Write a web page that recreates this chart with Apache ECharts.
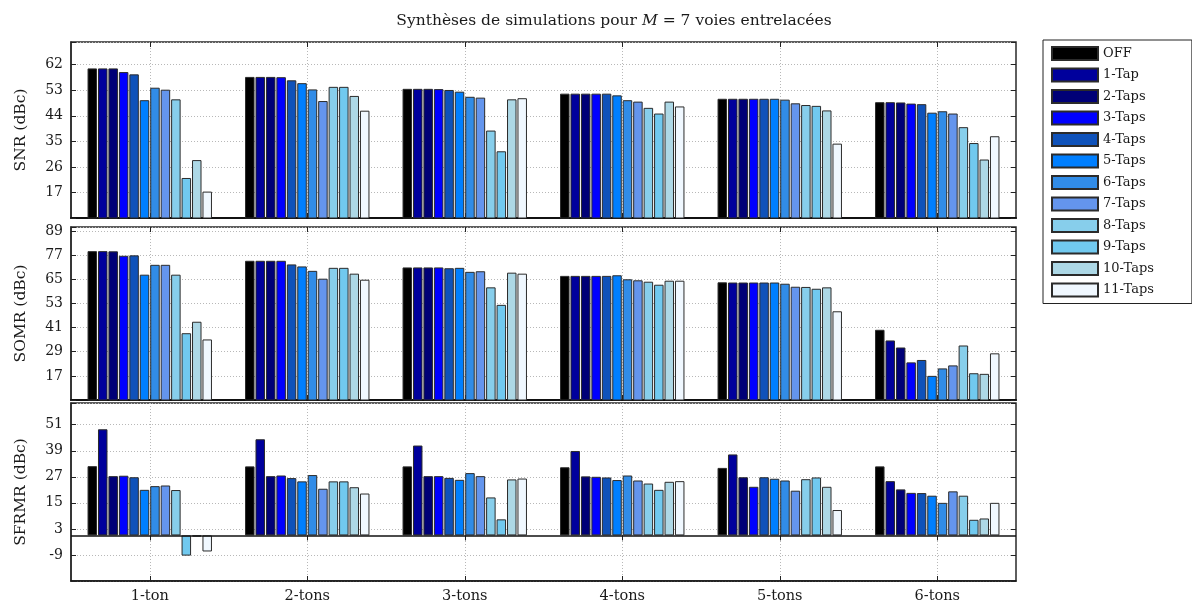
<!DOCTYPE html>
<html><head><meta charset="utf-8">
<script src="https://cdn.jsdelivr.net/npm/echarts@6/dist/echarts.min.js"></script>
<style>html,body{margin:0;padding:0;background:#fff}#c{width:1192px;height:607px}</style>
</head><body><div id="c"></div>
<script>
const categories = ['1-ton', '2-tons', '3-tons', '4-tons', '5-tons', '6-tons'];
const seriesNames = ['OFF', '1-Tap', '2-Taps', '3-Taps', '4-Taps', '5-Taps', '6-Taps', '7-Taps', '8-Taps', '9-Taps', '10-Taps', '11-Taps'];
const seriesColors = ['#000000', '#00009C', '#000077', '#0000FF', '#0F52BA', '#007FFF', '#318CE7', '#6495ED', '#87CEEB', '#71C9EF', '#ADD8E6', '#F0F8FF'];

// SNR (dBc), one array per category, values in series order
const snr1ton  = [60.7, 60.7, 60.7, 59.4, 58.6, 49.5, 53.9, 53.2, 49.8, 22.1, 28.4, 17.3];
const snr2tons = [57.7, 57.7, 57.7, 57.6, 56.5, 55.5, 53.3, 49.2, 54.2, 54.2, 51.0, 45.8];
const snr3tons = [53.5, 53.5, 53.5, 53.4, 53.1, 52.5, 50.7, 50.4, 38.8, 31.5, 49.8, 50.2];
const snr4tons = [51.8, 51.8, 51.8, 51.8, 51.8, 51.2, 49.5, 49.0, 46.8, 44.8, 49.0, 47.3];
const snr5tons = [50.0, 50.0, 50.0, 50.0, 50.0, 50.0, 49.7, 48.4, 47.8, 47.5, 45.9, 34.2];
const snr6tons = [48.8, 48.8, 48.7, 48.3, 48.1, 45.1, 45.6, 44.8, 40.0, 34.4, 28.6, 36.8];

// SOMR (dBc)
const somr1ton  = [79.0, 79.0, 78.9, 76.7, 76.9, 67.3, 72.2, 72.2, 67.3, 38.2, 43.9, 35.1];
const somr2tons = [74.2, 74.2, 74.2, 74.2, 72.4, 71.4, 69.2, 65.3, 70.7, 70.7, 67.8, 64.8];
const somr3tons = [70.9, 70.9, 70.9, 70.9, 70.5, 70.7, 68.7, 69.0, 61.0, 52.3, 68.3, 67.8];
const somr4tons = [66.7, 66.7, 66.7, 66.7, 66.7, 67.0, 65.0, 64.5, 63.8, 62.3, 64.3, 64.3];
const somr5tons = [63.5, 63.4, 63.4, 63.4, 63.4, 63.4, 62.8, 61.3, 61.2, 60.3, 61.0, 49.1];
const somr6tons = [39.9, 34.6, 31.1, 23.7, 24.9, 17.0, 20.7, 22.2, 32.1, 18.3, 18.0, 28.2];

// SFRMR (dBc)
const sfrmr1ton  = [31.9, 48.9, 27.3, 27.5, 26.8, 21.0, 22.7, 23.0, 20.9, -9.3, -0.5, -7.4];
const sfrmr2tons = [31.8, 44.3, 27.3, 27.6, 26.4, 24.9, 27.8, 21.5, 24.9, 24.9, 22.2, 19.3];
const sfrmr3tons = [31.8, 41.4, 27.3, 27.3, 26.5, 25.6, 28.7, 27.3, 17.5, 7.4, 25.8, 26.2];
const sfrmr4tons = [31.4, 38.9, 27.2, 27.0, 26.7, 25.5, 27.6, 25.3, 23.9, 21.0, 24.7, 25.0];
const sfrmr5tons = [31.1, 37.3, 26.8, 22.4, 26.8, 26.1, 25.3, 20.6, 25.9, 26.7, 22.4, 11.7];
const sfrmr6tons = [31.8, 25.0, 21.2, 19.6, 19.5, 18.3, 15.0, 20.3, 18.3, 7.2, 7.8, 15.0];

// tick labels
const snrTicks = [17, 26, 35, 44, 53, 62];
const somrTicks = [17, 29, 41, 53, 65, 77, 89];
const sfrmrTicks = [-9, 3, 15, 27, 39, 51];

const FONT = 'DejaVu Serif';
const TXT = '#1a1a1a';

const panels = [
  { name: 'SNR (dBc)', groups: [snr1ton, snr2tons, snr3tons, snr4tons, snr5tons, snr6tons], min: 8, max: 70, interval: 9, ticks: snrTicks, top: 42, height: 176, labels: false, zero: false },
  { name: 'SOMR (dBc)', groups: [somr1ton, somr2tons, somr3tons, somr4tons, somr5tons, somr6tons], min: 5, max: 91, interval: 12, ticks: somrTicks, top: 227, height: 173, labels: false, zero: false },
  { name: 'SFRMR (dBc)', groups: [sfrmr1ton, sfrmr2tons, sfrmr3tons, sfrmr4tons, sfrmr5tons, sfrmr6tons], min: -21, max: 61, interval: 12, ticks: sfrmrTicks, top: 403, height: 178, labels: true, zero: true }
];

const grid = [], xAxis = [], yAxis = [], series = [];
const dotted = { show: true, lineStyle: { color: '#b8b8b8', width: 1, type: [1, 2] } };

panels.forEach((p, pi) => {
  grid.push({ left: 71, width: 945, top: p.top, height: p.height, show: true, borderColor: '#2a2a2a', borderWidth: 1.5, backgroundColor: 'transparent' });
  xAxis.push({
    type: 'category', data: categories, gridIndex: pi, position: 'bottom',
    axisLine: { show: true, onZero: false, lineStyle: { color: '#111', width: p.zero ? 1.5 : 2 } },
    axisTick: { show: true, inside: true, alignWithLabel: true, length: 5, lineStyle: { color: '#222' } },
    splitLine: Object.assign({ alignWithLabel: true }, dotted),
    axisLabel: { show: p.labels, fontFamily: FONT, fontSize: 14.5, color: TXT, margin: 8 }
  });
  xAxis.push({
    type: 'category', data: categories, gridIndex: pi, position: 'top',
    axisLine: { show: false },
    axisTick: { show: true, inside: true, alignWithLabel: true, length: 5, lineStyle: { color: '#222' } },
    splitLine: { show: false }, axisLabel: { show: false }
  });
  yAxis.push({
    type: 'value', gridIndex: pi, min: p.min, max: p.max, interval: p.interval, position: 'left',
    name: p.name, nameLocation: 'middle', nameRotate: 90, nameGap: 42,
    nameTextStyle: { fontFamily: FONT, fontSize: 15.5, color: TXT },
    axisLine: { show: true, lineStyle: { color: '#2a2a2a', width: 1.5 } },
    axisTick: { show: true, inside: true, length: 5, lineStyle: { color: '#222' } },
    splitLine: dotted,
    axisLabel: { fontFamily: FONT, fontSize: 14, color: TXT, margin: 8,
      formatter: v => p.ticks.indexOf(Math.round(v * 1000) / 1000) >= 0 ? String(v) : '' }
  });
  yAxis.push({
    type: 'value', gridIndex: pi, min: p.min, max: p.max, interval: p.interval, position: 'right',
    axisLine: { show: false },
    axisTick: { show: true, inside: true, length: 5, lineStyle: { color: '#222' } },
    splitLine: { show: false }, axisLabel: { show: false }
  });
  seriesNames.forEach((n, si) => {
    const s = {
      type: 'bar', name: n, xAxisIndex: pi * 2, yAxisIndex: pi * 2,
      data: p.groups.map(g => g[si]),
      barCategoryGap: '21%', barGap: '10%',
      itemStyle: { color: seriesColors[si], borderColor: '#2b2b2b', borderWidth: 1 },
      emphasis: { disabled: true }, animation: false
    };
    if (p.zero && si === 0) {
      s.markLine = { silent: true, symbol: 'none', label: { show: false },
        lineStyle: { color: '#111', width: 1.5, type: 'solid' }, data: [{ yAxis: 0 }] };
    }
    series.push(s);
  });
});

const chart = echarts.init(document.getElementById('c'), null, { renderer: 'canvas' });
chart.setOption({
  animation: false,
  backgroundColor: '#ffffff',
  title: {
    text: 'Synthèses de simulations pour {i|M} = 7 voies entrelacées',
    left: 609, top: 8, textAlign: 'center',
    textStyle: { fontFamily: FONT, fontSize: 15.5, fontWeight: 'normal', color: TXT,
      rich: { i: { fontFamily: FONT, fontSize: 15.5, fontStyle: 'italic', color: TXT } } }
  },
  legend: {
    data: seriesNames, orient: 'vertical', left: 1043, top: 40,
    itemWidth: 46, itemHeight: 13, itemGap: 6.5,
    padding: [6, 38, 6, 8],
    borderColor: '#222', borderWidth: 1, backgroundColor: '#fff',
    textStyle: { fontFamily: FONT, fontSize: 13, color: TXT },
    icon: 'rect', selectedMode: false
  },
  grid, xAxis, yAxis, series
});
</script>
</body></html>
